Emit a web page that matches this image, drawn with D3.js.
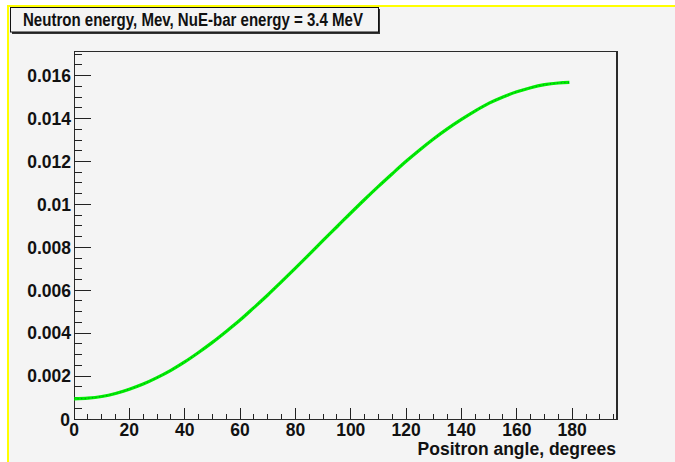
<!DOCTYPE html>
<html>
<head>
<meta charset="utf-8">
<script src="https://cdn.jsdelivr.net/npm/d3@7"></script>
<style>
  html, body { margin: 0; padding: 0; background: #ffffff; }
  svg { display: block; }
  text { font-family: "Liberation Sans", Arial, Helvetica, sans-serif; font-weight: bold; }
</style>
</head>
<body>
<svg id="chart" width="675" height="462"></svg>
<script>
// ---- data ----
const titleText = "Neutron energy, Mev, NuE-bar energy = 3.4 MeV";
const xAxisTitle = "Positron angle, degrees";
const angles = [0, 5, 10, 15, 20, 25, 30, 35, 40, 45, 50, 55, 60, 65, 70, 75, 80, 85, 90,
                95, 100, 105, 110, 115, 120, 125, 130, 135, 140, 145, 150, 155, 160, 165, 170, 175, 179];
const energies = [0.00094, 0.00097, 0.00105, 0.00119, 0.00139, 0.00163, 0.00193, 0.00227, 0.00266,
                  0.00310, 0.00357, 0.00408, 0.00461, 0.00519, 0.00578, 0.00640, 0.00703, 0.00767,
                  0.00832, 0.00896, 0.00960, 0.01023, 0.01084, 0.01143, 0.01201, 0.01255, 0.01306,
                  0.01353, 0.01396, 0.01436, 0.01472, 0.01501, 0.01525, 0.01544, 0.01558, 0.01566, 0.01569];
const xTickValues = [0, 20, 40, 60, 80, 100, 120, 140, 160, 180];
const xTickLabels = ["0", "20", "40", "60", "80", "100", "120", "140", "160", "180"];
const yTickValues = [0, 0.002, 0.004, 0.006, 0.008, 0.01, 0.012, 0.014, 0.016];
const yTickLabels = ["0", "0.002", "0.004", "0.006", "0.008", "0.01", "0.012", "0.014", "0.016"];
const xDomain = [0, 196.2];
const yDomain = [0, 0.01715];

// ---- layout ----
const svg = d3.select("#chart");
const F = { left: 74, right: 617, top: 51, bottom: 419 };

// canvas background with yellow top/left edge
svg.append("rect").attr("x", 8).attr("y", 6).attr("width", 667).attr("height", 456).attr("fill", "#f4f4f4");
svg.append("line").attr("x1", 7).attr("x2", 675).attr("y1", 6).attr("y2", 6)
   .attr("stroke", "#ffff00").attr("stroke-width", 2);
svg.append("line").attr("x1", 8).attr("x2", 8).attr("y1", 5).attr("y2", 462)
   .attr("stroke", "#ffff00").attr("stroke-width", 2);

const x = d3.scaleLinear().domain(xDomain).range([F.left, F.right]);
const y = d3.scaleLinear().domain(yDomain).range([F.bottom, F.top]);

// frame
svg.append("rect").attr("x", F.left).attr("y", F.top)
   .attr("width", F.right - F.left).attr("height", F.bottom - F.top)
   .attr("fill", "#f4f4f4").attr("stroke", "#2a2a2a").attr("stroke-width", 1)
   .attr("shape-rendering", "crispEdges");
svg.append("line").attr("x1", F.right).attr("x2", F.right).attr("y1", F.top).attr("y2", F.bottom)
   .attr("stroke", "#2a2a2a").attr("stroke-width", 2).attr("shape-rendering", "crispEdges");

// x axis ticks (inward)
const xMinor = d3.range(0, 196, 5);
const xAx = svg.append("g").attr("stroke", "#222").attr("stroke-width", 1).attr("shape-rendering", "crispEdges");
xAx.selectAll("line").data(xMinor).join("line")
   .attr("x1", d => x(d)).attr("x2", d => x(d))
   .attr("y1", F.bottom).attr("y2", d => F.bottom - (d % 20 === 0 ? 11 : 5.5));
svg.append("g").selectAll("text").data(xTickValues).join("text")
   .attr("x", d => x(d)).attr("y", 435.5).attr("text-anchor", "middle")
   .attr("font-size", 17.5).attr("fill", "#111")
   .text((d, i) => xTickLabels[i]);

// y axis ticks (inward)
const yMinor = d3.range(0, 0.01701, 0.0005);
const yAx = svg.append("g").attr("stroke", "#222").attr("stroke-width", 1).attr("shape-rendering", "crispEdges");
yAx.selectAll("line").data(yMinor).join("line")
   .attr("y1", d => y(d)).attr("y2", d => y(d))
   .attr("x1", F.left).attr("x2", (d, i) => F.left + (i % 4 === 0 ? 16.5 : 8.2));
svg.append("g").selectAll("text").data(yTickValues).join("text")
   .attr("x", (d, i) => i === 0 ? 70 : 71).attr("y", (d, i) => y(d) + 6.3 + (i === 0 ? 0.5 : 0))
   .attr("text-anchor", "end")
   .attr("font-size", 17.5).attr("fill", "#111")
   .text((d, i) => yTickLabels[i]);

// axis title
svg.append("text").attr("x", 616).attr("y", 455).attr("text-anchor", "end")
   .attr("font-size", 17.5).attr("fill", "#111").text(xAxisTitle);

// curve
const pts = angles.map((a, i) => [a, energies[i]]);
const line = d3.line().x(d => x(d[0])).y(d => y(d[1])).curve(d3.curveMonotoneX);
svg.append("path").attr("d", line(pts)).attr("fill", "none")
   .attr("stroke", "#00ee00").attr("stroke-width", 3.2).attr("stroke-linecap", "butt");
svg.append("path").attr("d", line(pts)).attr("fill", "none")
   .attr("stroke", "#063").attr("stroke-width", 1).attr("stroke-dasharray", "1,2.6")
   .attr("opacity", 0.8);

// title box with shadow
svg.append("rect").attr("x", 12).attr("y", 9).attr("width", 368).attr("height", 25).attr("fill", "#333");
svg.append("rect").attr("x", 10.5).attr("y", 7.5).attr("width", 368).attr("height", 24.5)
   .attr("fill", "#f4f4f4").attr("stroke", "#111").attr("stroke-width", 1);
svg.append("text").attr("x", 23).attr("y", 26).attr("font-size", 18).attr("fill", "#111")
   .attr("textLength", 340).attr("lengthAdjust", "spacingAndGlyphs").text(titleText);
</script>
</body>
</html>
